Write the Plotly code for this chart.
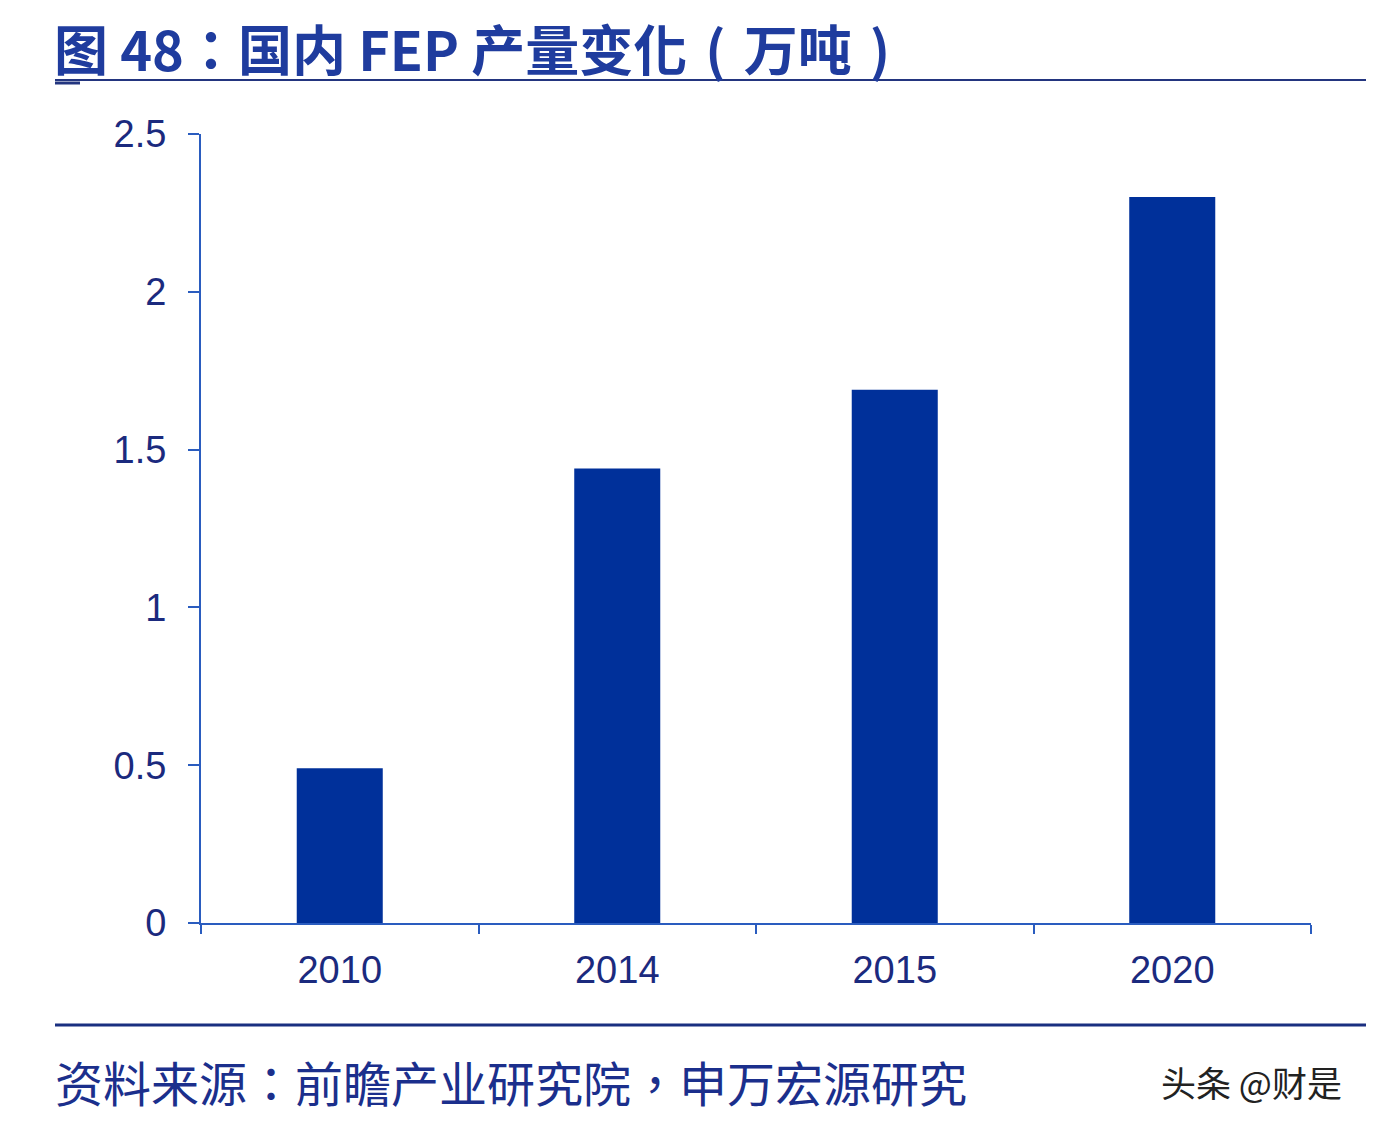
import plotly.graph_objects as go

# datos: producción nacional de FEP (万吨)
years = ["2010", "2014", "2015", "2020"]
output = [0.49, 1.44, 1.69, 2.30]
y_ticks = [0, 0.5, 1, 1.5, 2, 2.5]
y_ticktext = ["0", "0.5", "1", "1.5", "2", "2.5"]

title_text = "图 48：国内 FEP 产量变化\u2004(\u2004万吨\u2004)"
source_text = "资料来源：前瞻产业研究院，申万宏源研究"
mark_text = "头条 @财是"

bar_color = "#00309a"
axis_color = "#2a5cbf"
label_color = "#1b2a7e"
cjk = "Noto Sans CJK TC"

fig = go.Figure()
fig.add_trace(go.Bar(x=years, y=output, marker=dict(color=bar_color, line=dict(width=0)),
                     width=0.31, hoverinfo="x+y"))

# la página tiene 8px de margen en el body, se compensa aquí
fig.update_layout(
    width=1374, height=1132,
    margin=dict(l=193, r=71, t=126, b=217),
    paper_bgcolor="white", plot_bgcolor="white",
    showlegend=False,
    xaxis=dict(type="category", showline=True, linecolor=axis_color, linewidth=2,
               ticks="outside", tickson="boundaries", ticklen=9, tickwidth=2,
               tickcolor=axis_color, showgrid=False, zeroline=False,
               tickfont=dict(family="Liberation Sans, Arial", size=38, color=label_color),
               ticklabelstandoff=12),
    yaxis=dict(range=[0, 2.5], tickvals=y_ticks, ticktext=y_ticktext,
               showline=True, linecolor=axis_color, linewidth=2,
               ticks="outside", ticklen=11, tickwidth=2, tickcolor=axis_color,
               showgrid=False, zeroline=False,
               tickfont=dict(family="Liberation Sans, Arial", size=38, color=label_color),
               ticklabelstandoff=14),
)

# posiciones en coordenadas de papel (área de trazado: x 201..1311, y 134..923 px)
def px_x(p):
    return (p - 201) / 1110.0

def px_y(p):
    return (923 - p) / 789.0

# título y líneas
fig.add_annotation(text="<b>" + title_text + "</b>", xref="paper", yref="paper",
                   x=px_x(52), y=px_y(47.5), xanchor="left", yanchor="middle",
                   showarrow=False, font=dict(family=cjk, size=54, color="#1f3c9e"))
fig.add_shape(type="line", xref="paper", yref="paper",
              x0=px_x(55), x1=px_x(1367), y0=px_y(80), y1=px_y(80),
              line=dict(color="#23357f", width=2))
fig.add_shape(type="line", xref="paper", yref="paper",
              x0=px_x(55), x1=px_x(80), y0=px_y(83), y1=px_y(83),
              line=dict(color="#23357f", width=3))

# pie de página
fig.add_shape(type="line", xref="paper", yref="paper",
              x0=px_x(55), x1=px_x(1367), y0=px_y(1025), y1=px_y(1025),
              line=dict(color="#1a2f80", width=3))
fig.add_annotation(text=source_text, xref="paper", yref="paper",
                   x=px_x(53), y=px_y(1081), xanchor="left", yanchor="middle",
                   showarrow=False, font=dict(family=cjk, size=48, color="#1b2f8c"))
fig.add_annotation(text=mark_text, xref="paper", yref="paper",
                   x=px_x(1344), y=px_y(1081), xanchor="right", yanchor="middle",
                   showarrow=False, font=dict(family=cjk, size=35, color="#222222"))

fig.write_html("out.html")
